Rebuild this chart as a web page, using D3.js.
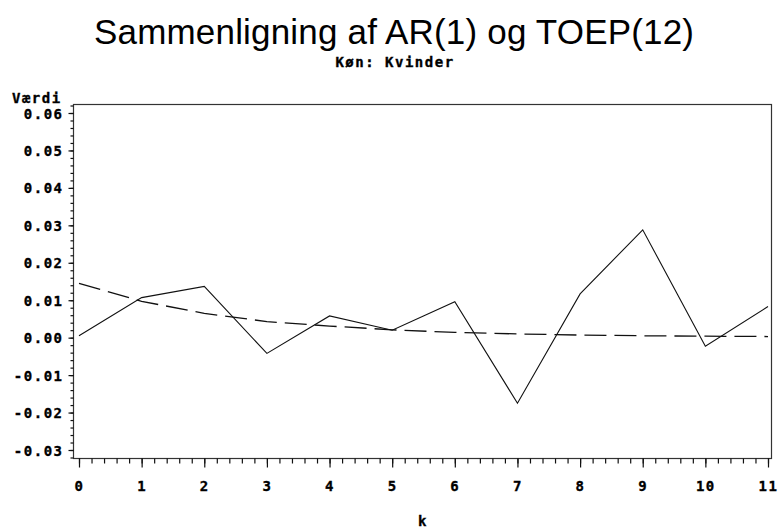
<!DOCTYPE html>
<html>
<head>
<meta charset="utf-8">
<script src="https://cdn.jsdelivr.net/npm/d3@7"></script>
<style>
  body { margin: 0; background: #fff; }
  svg { display: block; }
  .lbl { font-family: "DejaVu Sans Mono", monospace; font-weight: bold; font-size: 14px; letter-spacing: 1.5px; fill: #000; stroke: #000; stroke-width: 0.35px; }
</style>
</head>
<body>
<svg id="chart"></svg>
<script>
// lags and the two covariance estimates
var kValues = [0, 1, 2, 3, 4, 5, 6, 7, 8, 9, 10, 11];
var toep12 = [0.0005, 0.0107, 0.0137, -0.0042, 0.0058, 0.0020, 0.0096, -0.0175, 0.0117, 0.0288, -0.0023, 0.0083];
var ar1 = [0.0145, 0.0097, 0.0065, 0.0043, 0.0031, 0.0021, 0.0014, 0.0010, 0.0007, 0.0005, 0.0004, 0.0003];
var yTicks = [-0.03, -0.02, -0.01, 0.00, 0.01, 0.02, 0.03, 0.04, 0.05, 0.06];
var yMinor = [];
for (var i = -16; i <= 31; i++) yMinor.push(i * 0.002);
var xMinor = [];
for (var j = 0; j <= 55; j++) xMinor.push(j * 0.2);

var width = 779, height = 531;
var svg = d3.select("#chart").attr("width", width).attr("height", height);

// frame box
var boxL = 73, boxR = 771, boxT = 104, boxB = 458;

var x = d3.scaleLinear().domain([0, 11]).range([79, 768]);
var y = d3.scaleLinear().domain([-0.03, 0.06]).range([450, 113]);

// title
svg.append("text")
  .attr("x", 394).attr("y", 44)
  .attr("text-anchor", "middle")
  .attr("font-family", "Liberation Sans, Arial, sans-serif")
  .attr("font-size", 35)
  .attr("textLength", 600)
  .text("Sammenligning af AR(1) og TOEP(12)");

svg.append("text")
  .attr("class", "lbl")
  .attr("x", 395).attr("y", 67)
  .attr("text-anchor", "middle")
  .text("Køn: Kvinder");

// frame
svg.append("rect")
  .attr("x", boxL + 0.5).attr("y", boxT + 0.5)
  .attr("width", boxR - boxL).attr("height", boxB - boxT)
  .attr("fill", "none").attr("stroke", "#333").attr("stroke-width", 1.2);

// y axis
var yAxis = svg.append("g").attr("transform", "translate(" + (boxL + 0.5) + ",0)");
yAxis.call(d3.axisLeft(y).tickValues(yMinor).tickFormat("").tickSize(3).tickSizeOuter(0));
yAxis.append("g").call(d3.axisLeft(y).tickValues(yTicks).tickSize(5).tickSizeOuter(0).tickPadding(5)
  .tickFormat(d => d3.format(".2f")(d).replace("−", "-")));
yAxis.selectAll(".domain").remove();
yAxis.selectAll("text").attr("class", "lbl").attr("font-size", null).attr("font-family", null).attr("dy", "0.36em");

// x axis
var xAxis = svg.append("g").attr("transform", "translate(0," + (boxB + 0.5) + ")");
xAxis.call(d3.axisBottom(x).tickValues(xMinor).tickFormat("").tickSize(5).tickSizeOuter(0));
xAxis.append("g").call(d3.axisBottom(x).tickValues(kValues).tickSize(9).tickSizeOuter(0).tickPadding(14)
  .tickFormat(d3.format("d")));
xAxis.selectAll(".domain").remove();
xAxis.selectAll("text").attr("class", "lbl").attr("font-size", null).attr("font-family", null);
svg.selectAll(".tick line").attr("stroke", "#111").attr("stroke-width", 1.2);

// axis titles
svg.append("text").attr("class", "lbl")
  .attr("x", 12).attr("y", 103)
  .text("Værdi");
svg.append("text").attr("class", "lbl")
  .attr("x", 423).attr("y", 526)
  .attr("text-anchor", "middle")
  .text("k");

var line = d3.line().x((d, i) => x(kValues[i])).y(d => y(d));

svg.append("path")
  .datum(ar1)
  .attr("d", line)
  .attr("fill", "none").attr("stroke", "#111").attr("stroke-width", 1.3)
  .attr("stroke-dasharray", "22,8");

svg.append("path")
  .datum(toep12)
  .attr("d", line)
  .attr("fill", "none").attr("stroke", "#111").attr("stroke-width", 1.1);
</script>
</body>
</html>
